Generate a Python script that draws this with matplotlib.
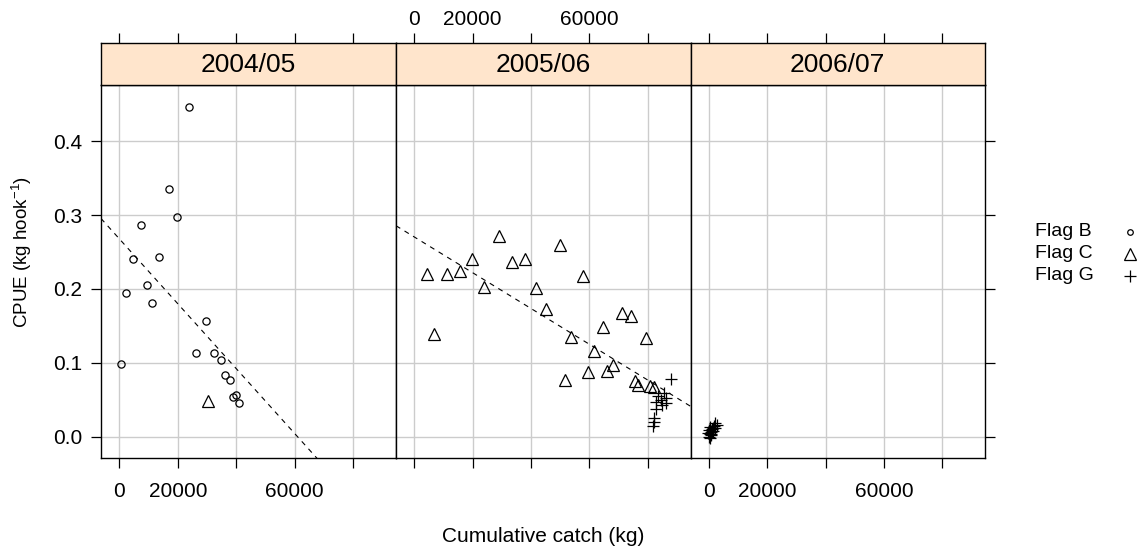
"""
CPUE against cumulative catch, one panel per fishing season.

Lattice-style layout: three panels side by side with strips on top,
alternating x axes, dashed least-squares line per season.
Saves out.png.
"""

import matplotlib.pyplot as plt
import numpy as np

plt.rcParams["font.family"] = ["Liberation Sans", "DejaVu Sans"]
plt.rcParams["mathtext.fontset"] = "custom"
plt.rcParams["mathtext.rm"] = "Liberation Sans"
plt.rcParams["mathtext.it"] = "Liberation Sans:italic"

SEASONS = ["2004/05", "2005/06", "2006/07"]
FLAGS = ["Flag B", "Flag C", "Flag G"]

# 2004/05
b_0405_catch = [23930, 16870, 19715, 7520, 4790, 13675, 9460, 2390, 11280, 29630,
                26210, 32365, 34755, 36125, 37950, 38970, 39770, 40800, 456]
b_0405_cpue = [0.447, 0.336, 0.297, 0.287, 0.241, 0.243, 0.206, 0.195, 0.181, 0.156,
               0.113, 0.113, 0.104, 0.083, 0.077, 0.054, 0.056, 0.046, 0.098]
c_0405_catch = [30200]
c_0405_cpue = [0.048]

# 2005/06
c_0506_catch = [4300, 11090, 15500, 19915, 28970, 33380, 38020, 23760, 41750, 50010,
                57820, 45035, 6900, 53750, 64500, 71060, 74230, 79430, 61670, 67890,
                66080, 59630, 51480, 75590, 76720, 80680, 82040]
c_0506_cpue = [0.220, 0.220, 0.225, 0.240, 0.272, 0.236, 0.240, 0.202, 0.201, 0.259,
               0.218, 0.173, 0.139, 0.135, 0.148, 0.167, 0.163, 0.133, 0.116, 0.097,
               0.089, 0.087, 0.077, 0.075, 0.070, 0.068, 0.067]
g_0506_catch = [88080, 85360, 86250, 84340, 86250, 84890, 82640, 82640, 82070, 82070,
                81730, 83500]
g_0506_cpue = [0.078, 0.059, 0.052, 0.050, 0.045, 0.043, 0.047, 0.037, 0.025, 0.020,
               0.015, 0.055]

# 2006/07
g_0607_catch = [200, 800, 1500, 2300, 600, 1200, 1900, 2800, 400, 1000,
                1600, 300, 900, 2100, 0, -300, 500]
g_0607_cpue = [0.000, 0.004, 0.008, 0.012, 0.006, 0.010, 0.014, 0.016, 0.003, 0.007,
               0.012, -0.002, 0.002, 0.018, 0.009, 0.005, 0.013]

# fitted lines (intercept, slope); none drawn for 2006/07
fit_intercept = [0.268, 0.2705, None]
fit_slope = [-4.4e-6, -2.425e-6, None]

PANEL_DATA = [
    {"Flag B": (b_0405_catch, b_0405_cpue), "Flag C": (c_0405_catch, c_0405_cpue)},
    {"Flag C": (c_0506_catch, c_0506_cpue), "Flag G": (g_0506_catch, g_0506_cpue)},
    {"Flag G": (g_0607_catch, g_0607_cpue)},
]

MARKERS = {
    "Flag B": dict(marker="o", ms=5.2, mfc="none", mec="black", mew=0.9),
    "Flag C": dict(marker="^", ms=8.5, mfc="none", mec="black", mew=0.9),
    "Flag G": dict(marker="+", ms=8.0, mec="black", mew=0.9),
}

XTICKS = [0, 20000, 40000, 60000, 80000]
XTICKLABELS = ["0", "20000", "", "60000", ""]
YTICKS = [0.0, 0.1, 0.2, 0.3, 0.4]
XLIM = (-6250, 94600)
YLIM = (-0.029, 0.477)

W, H = 1143, 549
STRIP_BG = "#ffe5cc"
GRID = "#cccccc"
TICK_FS = 15
STRIP_FS = 19
LAB_FS = 15
KEY_FS = 14


def fx(px):
    return px / W


def fy(py):
    return 1 - py / H


def main() -> None:
    fig = plt.figure(figsize=(W / 100, H / 100), dpi=100)
    edges = [101, 396, 690.5, 985]
    top, bottom, strip_top = 84.5, 458, 43.3

    for i, season in enumerate(SEASONS):
        left, right = edges[i], edges[i + 1]
        ax = fig.add_axes([fx(left), fy(bottom), fx(right - left), fy(top) - fy(bottom)])
        st = fig.add_axes([fx(left), fy(top), fx(right - left), fy(strip_top) - fy(top)])

        ax.set_xlim(*XLIM)
        ax.set_ylim(*YLIM)
        ax.set_xticks(XTICKS)
        ax.set_yticks(YTICKS)
        for x in XTICKS:
            ax.axvline(x, color=GRID, lw=1, zorder=0)
        for y in YTICKS:
            ax.axhline(y, color=GRID, lw=1, zorder=0)

        for flag, (xs, ys) in PANEL_DATA[i].items():
            ax.plot(xs, ys, ls="none", zorder=3, **MARKERS[flag])

        if fit_intercept[i] is not None:
            xx = np.array(XLIM)
            ax.plot(xx, fit_intercept[i] + fit_slope[i] * xx, color="black",
                    lw=0.8, ls=(0, (4.5, 4.5)), zorder=2)

        for sp in ax.spines.values():
            sp.set_linewidth(1.0)

        # x labels below panels 1 and 3, above the strip for panel 2
        ax.tick_params(axis="x", direction="out", length=7.5, width=0.9,
                       bottom=True, top=False, labelsize=TICK_FS, pad=10,
                       labelbottom=(i != 1))
        ax.set_xticklabels(XTICKLABELS)

        ax.tick_params(axis="y", direction="out", length=7.5, width=0.9,
                       left=(i == 0), right=(i == 2), labelleft=(i == 0),
                       labelright=False, labelsize=TICK_FS, pad=6)

        st.set_xlim(*XLIM)
        st.set_ylim(0, 1)
        st.set_facecolor(STRIP_BG)
        st.set_yticks([])
        st.set_xticks(XTICKS)
        st.tick_params(axis="x", direction="out", length=7.5, width=0.9,
                       bottom=False, top=True, labelbottom=False,
                       labeltop=(i == 1), labelsize=TICK_FS, pad=3)
        st.set_xticklabels(XTICKLABELS)
        for sp in st.spines.values():
            sp.set_linewidth(1.0)
        st.text(0.5, 0.47, season, transform=st.transAxes, ha="center", va="center",
                fontsize=STRIP_FS)

    fig.text(fx(543), fy(536), "Cumulative catch (kg)", ha="center", va="center",
             fontsize=LAB_FS)
    fig.text(fx(22), fy(252), r"CPUE (kg hook$^{-1}$)", ha="center", va="center",
             rotation=90, fontsize=LAB_FS - 1.5)

    # key on the right
    key_y = [232, 254, 276]
    key_ms = {"Flag B": 4.0, "Flag C": 8.0, "Flag G": 8.0}
    for flag, y in zip(FLAGS, key_y):
        fig.text(fx(1035), fy(y), flag, ha="left", va="center", fontsize=KEY_FS)
        style = dict(MARKERS[flag])
        style["ms"] = key_ms[flag]
        fig.add_artist(plt.Line2D([fx(1130)], [fy(y)], transform=fig.transFigure,
                                  ls="none", **style))

    fig.savefig("out.png", dpi=100, facecolor="white")
    plt.close(fig)


if __name__ == "__main__":
    main()
